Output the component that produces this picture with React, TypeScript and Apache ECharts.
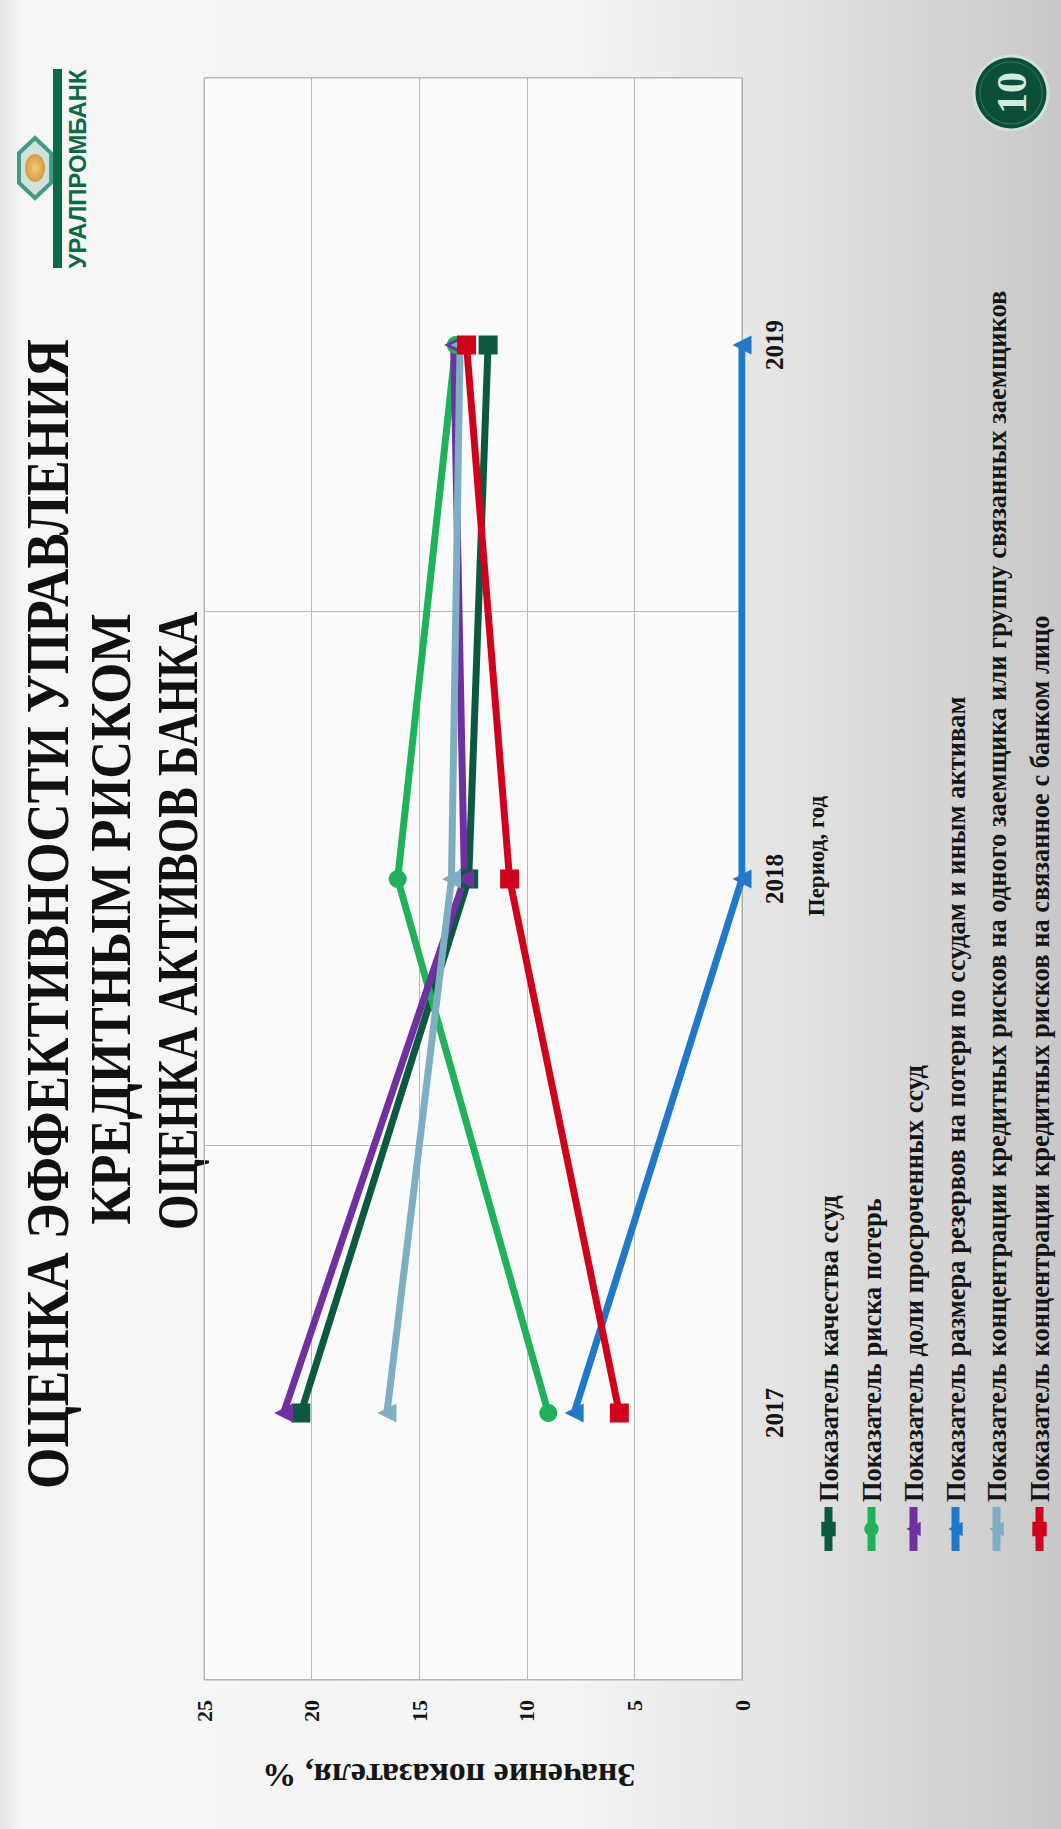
import React, { useEffect, useRef } from "react";
import * as echarts from "echarts";

const years = ["2017", "2018", "2019"];
const seriesNames = [
  "Показатель качества ссуд",
  "Показатель риска потерь",
  "Показатель доли просроченных ссуд",
  "Показатель размера резервов на потери по ссудам и иным активам",
  "Показатель концентрации кредитных рисков на одного заемщика или группу связанных заемщиков",
  "Показатель концентрации кредитных рисков на связанное с банком лицо",
];
const loanQuality = [20.5, 12.7, 11.8];
const lossRisk = [9.0, 16.0, 13.3];
const overdueShare = [21.3, 12.9, 13.4];
const reserveSize = [7.8, 0, 0];
const borrowerConcentration = [16.5, 13.5, 13.1];
const relatedConcentration = [5.7, 10.8, 12.8];
const seriesColors = ["#0b5940", "#1fb25a", "#7030a0", "#1f78c8", "#7eaec2", "#d0021b"];
const seriesSymbols = ["rect", "circle", "triangle", "triangle", "triangle", "rect"];
const titleLines = [
  "ОЦЕНКА ЭФФЕКТИВНОСТИ УПРАВЛЕНИЯ",
  "КРЕДИТНЫМ РИСКОМ",
  "ОЦЕНКА АКТИВОВ БАНКА",
];
const bankName = "УРАЛПРОМБАНК";
const pageNumber = "10";
const xAxisTitle = "Период, год";
const yAxisTitle = "Значение показателя, %";

const SERIF = "'Liberation Serif', 'Times New Roman', serif";
const legendRows = [830, 873, 915, 957, 998, 1041];

function measure(text: string, font: string): number {
  const ctx = document.createElement("canvas").getContext("2d");
  if (!ctx) return 1;
  ctx.font = font;
  return ctx.measureText(text).width || 1;
}

function fittedText(text: string, font: string, cx: number, cy: number, target: number, fill: string) {
  const w = measure(text, font);
  return {
    type: "text",
    x: cx,
    y: cy,
    scaleX: target / w,
    style: { text, font, fill, align: "center", verticalAlign: "middle" },
  };
}

export default function App() {
  const ref = useRef<HTMLDivElement>(null);

  useEffect(() => {
    if (!ref.current) return;
    const chart = echarts.init(ref.current, undefined, { renderer: "svg" });
    const dataSets = [loanQuality, lossRisk, overdueShare, reserveSize, borrowerConcentration, relatedConcentration];

    const titleFont1 = "bold 62px 'Liberation Serif'";
    const titleFont2 = "bold 56px 'Liberation Serif'";
    const logoFont = "bold 24px 'Liberation Sans'";

    const hx = 1661, hy = 35;
    const graphic: any[] = [
      fittedText(titleLines[0], titleFont1, 915, 47, 1150, "#111111"),
      fittedText(titleLines[1], titleFont2, 910, 111, 612, "#111111"),
      fittedText(titleLines[2], titleFont2, 908, 178, 618, "#111111"),
      // logo
      { type: "rect", shape: { x: 1561, y: 53, width: 199, height: 9 }, style: { fill: "#0b6a46" } },
      fittedText(bankName, logoFont, 1660, 77, 199, "#0b6a46"),
      {
        type: "polygon",
        shape: {
          points: [
            [hx - 30, hy], [hx - 15, hy - 16], [hx + 15, hy - 16],
            [hx + 30, hy], [hx + 15, hy + 16], [hx - 15, hy + 16],
          ],
        },
        style: { fill: "#cfe3da", stroke: "#3f9a86", lineWidth: 4 },
      },
      {
        type: "ellipse",
        shape: { cx: hx, cy: hy, rx: 14, ry: 10 },
        style: {
          fill: {
            type: "radial", x: 0.5, y: 0.5, r: 0.5,
            colorStops: [{ offset: 0, color: "#f3c97a" }, { offset: 1, color: "#d99a3c" }],
          },
        },
      },
      // page badge
      { type: "circle", shape: { cx: 1736, cy: 1011, r: 37 }, style: { fill: "#0c4f38", stroke: "#cfe2d8", lineWidth: 3 } },
      { type: "circle", shape: { cx: 1736, cy: 1011, r: 31 }, style: { fill: "none", stroke: "#2f7a5c", lineWidth: 1 } },
      {
        type: "text", x: 1736, y: 1012,
        style: { text: pageNumber, font: "bold 42px 'Liberation Serif'", fill: "#d3eadc", align: "center", verticalAlign: "middle" },
      },
    ];

    const legends = seriesNames.map((name, i) => ({
      orient: "horizontal",
      left: 274,
      top: legendRows[i] - 15,
      padding: 0,
      itemWidth: 44,
      itemHeight: 18,
      selectedMode: false,
      data: [name],
      lineStyle: { width: 8 },
      textStyle: { fontFamily: SERIF, fontSize: 26.5, fontWeight: "bold", color: "#151515" },
    }));

    const option: any = {
      animation: false,
      backgroundColor: {
        type: "linear", x: 0, y: 0, x2: 0, y2: 1,
        colorStops: [
          { offset: 0, color: "#e4e4e4" },
          { offset: 0.02, color: "#f6f6f6" },
          { offset: 0.55, color: "#f3f3f3" },
          { offset: 0.75, color: "#e2e2e2" },
          { offset: 1, color: "#c8c8c8" },
        ],
      },
      textStyle: { fontFamily: SERIF },
      grid: {
        left: 149, right: 78, top: 204, bottom: 319,
        show: true, backgroundColor: "#fafafa", borderColor: "#b8b8b8", borderWidth: 1,
      },
      legend: legends,
      xAxis: {
        type: "category",
        data: years,
        boundaryGap: true,
        axisLine: { show: true, lineStyle: { color: "#a8a8a8", width: 1 } },
        axisTick: { show: false },
        splitLine: { show: true, lineStyle: { color: "#b8b8b8", width: 1 } },
        axisLabel: { margin: 20, fontFamily: SERIF, fontSize: 25, fontWeight: "bold", color: "#151515" },
        name: xAxisTitle,
        nameLocation: "middle",
        nameGap: 63,
        nameTextStyle: { fontFamily: SERIF, fontSize: 23, fontWeight: "bold", color: "#151515", padding: [0, 0, 0, 46] },
      },
      yAxis: {
        type: "value",
        min: 0,
        max: 25,
        interval: 5,
        axisLine: { show: false },
        axisTick: { show: false },
        splitLine: { show: true, lineStyle: { color: "#b8b8b8", width: 1 } },
        axisLabel: { margin: 20, fontFamily: SERIF, fontSize: 22, fontWeight: "bold", color: "#151515" },
        name: yAxisTitle,
        nameLocation: "middle",
        nameGap: 78,
        nameTextStyle: { fontFamily: SERIF, fontSize: 34, fontWeight: "bold", color: "#151515", padding: [0, 0, 0, 48] },
      },
      series: seriesNames.map((name, i) => ({
        name,
        type: "line",
        data: dataSets[i],
        symbol: seriesSymbols[i],
        symbolSize: seriesSymbols[i] === "rect" ? 19 : seriesSymbols[i] === "circle" ? 18 : 19,
        lineStyle: { color: seriesColors[i], width: 7 },
        itemStyle: { color: seriesColors[i] },
        emphasis: { disabled: true },
      })),
      graphic,
    };

    chart.setOption(option);
    return () => chart.dispose();
  }, []);

  return (
    <div style={{ position: "absolute", left: 0, top: 0, width: 1061, height: 1829, overflow: "hidden" }}>
      <div
        ref={ref}
        style={{
          position: "absolute",
          left: 0,
          top: 0,
          width: 1829,
          height: 1061,
          transformOrigin: "0 0",
          transform: "translate(0px, 1829px) rotate(-90deg)",
        }}
      />
    </div>
  );
}
